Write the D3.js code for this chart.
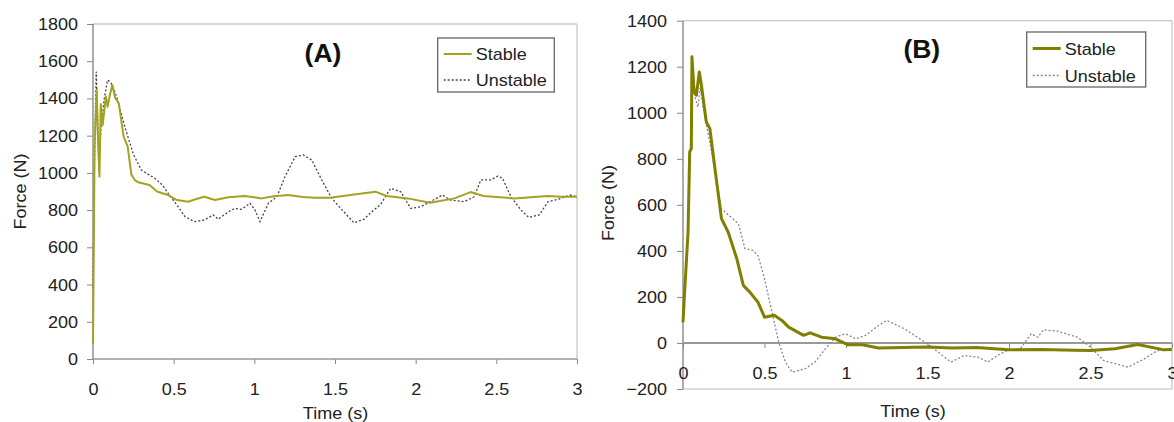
<!DOCTYPE html>
<html><head><meta charset="utf-8">
<script src="https://cdn.jsdelivr.net/npm/d3@7"></script>
<style>
html,body{margin:0;padding:0;background:#fff;}
svg{display:block;font-family:"Liberation Sans",Arial,sans-serif;}
</style></head>
<body>
<svg id="c" width="1174" height="422"></svg>
<script>
// ---------- DATA ----------
const seriesNames = ["Stable", "Unstable"];
const xTicks = [0, 0.5, 1, 1.5, 2, 2.5, 3];
const yTicksA = [0, 200, 400, 600, 800, 1000, 1200, 1400, 1600, 1800];
const yTicksB = [-200, 0, 200, 400, 600, 800, 1000, 1200, 1400];

const stableA_t = [0,0.005,0.01,0.023,0.032,0.04,0.048,0.06,0.08,0.09,0.105,0.12,0.137,0.16,0.19,0.215,0.238,0.26,0.28,0.35,0.40,0.466,0.52,0.59,0.64,0.69,0.756,0.84,0.94,1.045,1.12,1.21,1.3,1.377,1.47,1.596,1.75,1.82,1.95,2.09,2.24,2.34,2.42,2.61,2.82,2.9,3.0];
const stableA_f = [80,600,1150,1445,1150,980,1370,1257,1410,1355,1420,1472,1404,1374,1195,1141,990,960,950,935,899,881,854,845,860,872,854,869,876,863,875,881,870,867,867,881,899,876,863,840,863,897,876,863,876,872,872];

const unstableA_t = [0,0.008,0.02,0.03,0.037,0.05,0.07,0.09,0.105,0.12,0.15,0.197,0.25,0.30,0.383,0.43,0.466,0.528,0.57,0.63,0.69,0.745,0.776,0.84,0.88,0.92,0.973,1.004,1.035,1.087,1.14,1.19,1.253,1.304,1.356,1.418,1.48,1.517,1.617,1.68,1.74,1.78,1.845,1.907,1.97,2.03,2.09,2.166,2.217,2.30,2.362,2.404,2.466,2.51,2.538,2.59,2.652,2.70,2.766,2.82,2.90,2.96,3.0];
const unstableA_f = [380,1000,1544,1250,1010,1250,1400,1499,1490,1470,1400,1248,1100,1015,971,935,890,818,765,738,747,774,751,792,809,804,837,801,738,837,872,980,1087,1096,1069,962,863,827,732,751,801,827,917,899,809,818,845,881,854,845,872,962,962,983,971,872,801,761,774,845,863,881,872];

const stableB_t = [0,0.01,0.031,0.041,0.051,0.055,0.068,0.082,0.10,0.113,0.143,0.165,0.196,0.236,0.277,0.33,0.37,0.41,0.46,0.50,0.56,0.607,0.648,0.74,0.78,0.85,0.935,1.014,1.10,1.20,1.35,1.5,1.65,1.8,2.0,2.2,2.4,2.5,2.65,2.79,2.95,3.0];
const stableB_f = [90,221,482,830,844,1243,1091,1076,1177,1120,960,931,757,540,482,366,250,221,177,112,120,98,69,33,44,25,18,-8,-8,-22,-20,-18,-22,-20,-30,-28,-32,-33,-25,-7,-30,-28];

const unstableB_t = [0,0.01,0.031,0.045,0.055,0.07,0.092,0.105,0.13,0.17,0.236,0.34,0.38,0.43,0.46,0.50,0.546,0.587,0.628,0.669,0.75,0.81,0.874,0.935,0.997,1.06,1.12,1.20,1.25,1.357,1.50,1.644,1.726,1.81,1.87,1.93,1.99,2.07,2.136,2.177,2.21,2.30,2.42,2.50,2.58,2.73,2.83,2.91,3.0];
const unstableB_f = [90,220,480,820,1098,1080,1025,1110,1000,850,583,518,410,402,380,279,134,4,-83,-127,-112,-83,-25,25,40,18,33,76,98,62,-4,-83,-54,-62,-83,-54,-33,-25,40,25,57,51,25,-18,-76,-105,-69,-33,-30];

// ---------- DRAW ----------
const svg = d3.select("#c");
const zip = (t, f) => t.map((v, i) => [v, f[i]]);
const fmt = d3.format("~g");
const FS = 17;

function panel(opt) {
  const g = svg.append("g");
  const x = d3.scaleLinear().domain([0, 3]).range(opt.xr);
  const y = d3.scaleLinear().domain(opt.yd).range(opt.yr);
  const [x0, x1] = opt.xr;
  const yTop = y(opt.yd[1]), yBot = y(opt.yd[0]);

  // frame
  g.append("line").attr("x1", x0).attr("x2", x1).attr("y1", yTop).attr("y2", yTop).attr("stroke", "#c8c8c8").attr("stroke-width", 1.3);
  g.append("line").attr("x1", x1).attr("x2", x1).attr("y1", yTop).attr("y2", yBot).attr("stroke", "#c8c8c8").attr("stroke-width", 1.3);
  if (opt.yd[0] < 0) {
    g.append("line").attr("x1", x0).attr("x2", x1).attr("y1", yBot).attr("y2", yBot).attr("stroke", "#d0d0d0").attr("stroke-width", 1.3);
  }

  // y axis
  const ya = g.append("g").attr("transform", `translate(${x0},0)`)
    .call(d3.axisLeft(y).tickValues(opt.yTicks).tickFormat(fmt).tickSize(6).tickPadding(opt.yPad));
  ya.select(".domain").remove();
  ya.selectAll(".tick line").attr("stroke", "#888");
  ya.selectAll(".tick text").attr("font-size", FS).attr("fill", "#222").attr("font-family", "Liberation Sans, Arial, sans-serif");
  g.append("line").attr("x1", x0).attr("x2", x0).attr("y1", yTop).attr("y2", yBot).attr("stroke", "#888").attr("stroke-width", 1.4);

  // x axis (at y=0)
  const yz = y(0);
  const xa = g.append("g").attr("transform", `translate(0,${yz})`)
    .call(d3.axisBottom(x).tickValues(xTicks).tickFormat(fmt).tickSize(5).tickPadding(opt.xPad));
  xa.select(".domain").remove();
  xa.selectAll(".tick line").attr("stroke", "#888");
  xa.selectAll(".tick text").attr("font-size", FS).attr("fill", "#222").attr("font-family", "Liberation Sans, Arial, sans-serif");
  g.append("line").attr("x1", x0).attr("x2", x1).attr("y1", yz).attr("y2", yz).attr("stroke", "#999").attr("stroke-width", opt.zeroW);

  // lines
  const line = d3.line().x(d => x(d[0])).y(d => y(d[1]));
  g.append("path").datum(opt.unstable).attr("d", line).attr("fill", "none")
    .attr("stroke", opt.uColor).attr("stroke-width", 1.3).attr("stroke-dasharray", "2,2");
  g.append("path").datum(opt.stable).attr("d", line).attr("fill", "none")
    .attr("stroke", opt.sColor).attr("stroke-width", opt.sW).attr("stroke-linejoin", "round");

  // titles
  g.append("text").attr("x", opt.xTitle[0]).attr("y", opt.xTitle[1]).attr("text-anchor", "middle")
    .attr("font-size", FS).attr("fill", "#222").text("Time (s)");
  g.append("text").attr("transform", `translate(${opt.yTitle[0]},${opt.yTitle[1]}) rotate(-90)`).attr("text-anchor", "middle")
    .attr("font-size", FS).attr("fill", "#222").text("Force (N)");
  g.append("text").attr("x", opt.lab[0]).attr("y", opt.lab[1]).attr("text-anchor", "middle")
    .attr("font-size", 25).attr("font-weight", "bold").attr("fill", "#111").text(opt.label);

  // legend
  const L = opt.leg;
  g.append("rect").attr("x", L.x).attr("y", L.y).attr("width", L.w).attr("height", L.h)
    .attr("fill", "#fff").attr("stroke", "#666").attr("stroke-width", 1.3);
  const rows = [
    { name: seriesNames[0], c: opt.sColor, w: opt.sW, dash: null },
    { name: seriesNames[1], c: opt.uColor, w: 1.3, dash: "2,2" }
  ];
  rows.forEach((r, i) => {
    const cy = L.y + L.r0 + i * L.dy;
    g.append("line").attr("x1", L.x + 6).attr("x2", L.x + 34).attr("y1", cy).attr("y2", cy)
      .attr("stroke", r.c).attr("stroke-width", r.w).attr("stroke-dasharray", r.dash);
    g.append("text").attr("x", L.x + 38).attr("y", cy + 6).attr("font-size", FS).attr("fill", "#222").text(r.name);
  });
}

panel({
  xr: [93, 577], yd: [0, 1800], yr: [359, 24], yTicks: yTicksA, yPad: 9, xPad: 19, zeroW: 1.4,
  stable: zip(stableA_t, stableA_f), unstable: zip(unstableA_t, unstableA_f),
  sColor: "#a3a322", sW: 2, uColor: "#444",
  xTitle: [335.5, 419], yTitle: [26, 191.5], lab: [323, 62], label: "(A)",
  leg: { x: 437.7, y: 38, w: 116.6, h: 54, r0: 16, dy: 26 }
});
panel({
  xr: [683, 1172], yd: [-200, 1400], yr: [389, 20.7], yTicks: yTicksB, yPad: 10, xPad: 18.5, zeroW: 2,
  stable: zip(stableB_t, stableB_f), unstable: zip(unstableB_t, unstableB_f),
  sColor: "#808000", sW: 3, uColor: "#888",
  xTitle: [913, 417], yTitle: [614, 203], lab: [921.8, 58], label: "(B)",
  leg: { x: 1026.7, y: 32, w: 119, h: 55, r0: 16.5, dy: 27 }
});

// slight horizontal stretch of text to match reference glyph widths
svg.selectAll("text").each(function () {
  const w = this.getComputedTextLength();
  d3.select(this).attr("textLength", w * 1.06).attr("lengthAdjust", "spacingAndGlyphs");
});
</script>
</body></html>
